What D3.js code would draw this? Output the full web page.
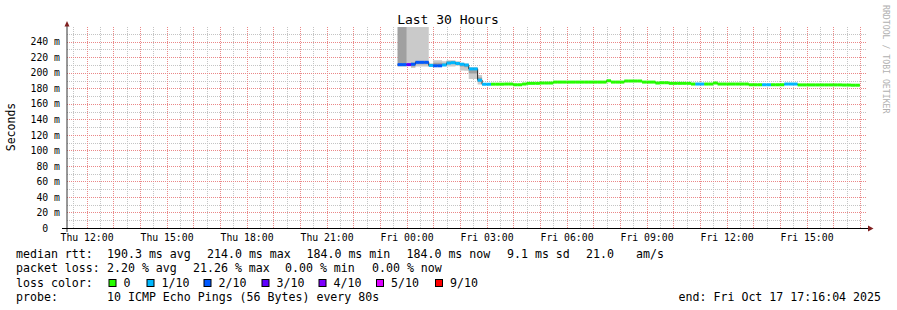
<!DOCTYPE html>
<html>
<head>
<meta charset="utf-8">
<script src="https://cdn.jsdelivr.net/npm/d3@7"></script>
<style>
  body { margin: 0; background: #fff; }
  svg text { font-family: "DejaVu Sans Mono", monospace; white-space: pre; }
</style>
</head>
<body>
<div id="chart"></div>
<script>
// data

var startTime = new Date(2025, 9, 16, 11, 16, 4);
var endTime = new Date(2025, 9, 17, 17, 16, 4);
var firstStep = new Date(2025, 9, 16, 23, 40, 0);
var stepMinutes = 10;

// median rtt per 10 min step (ms)
var medians = [
  210.5, 210.5, 210.5, 211, 213.5, 213.5, 213.5, 209.5, 209, 209,
  210, 212.5, 213, 212, 211, 210, 205, 205, 190.5, 185.2,
  185.2, 185.3, 185.3, 185.3, 185.5, 185.5, 184.6, 184.6, 185.5, 186.4,
  186.4, 186.4, 186.8, 186.8, 186.8, 188, 188, 188, 188, 188,
  188, 188, 188, 188, 188, 188, 188, 189.7, 188, 188,
  188, 189.4, 189.4, 189.4, 189.4, 188, 188, 188, 186.8, 187.2,
  187.2, 186.4, 186.4, 186.4, 186.4, 186.4, 185.5, 185.5, 185.5, 185.5,
  185.5, 186.8, 185.5, 185.5, 185.5, 185.5, 185.5, 185.5, 185.5, 184.6,
  184.6, 184.6, 184.6, 184.6, 184.6, 184.6, 184.6, 185.5, 185.5, 185.5,
  184.4, 184.4, 184.4, 184.4, 184.4, 184.4, 184.4, 184.4, 184.4, 184.4,
  184.2, 184.2, 184, 184
];

// loss per step, in tenths
var losses = [
  2, 2, 3, 2, 2, 2, 2, 1, 2, 2,
  1, 1, 1, 1, 1, 1, 1, 1, 1, 1,
  1, 0, 0, 0, 0, 0, 0, 0, 0, 0,
  0, 0, 0, 0, 0, 0, 0, 0, 0, 0,
  0, 0, 0, 0, 0, 0, 0, 0, 0, 0,
  0, 0, 0, 0, 0, 0, 0, 0, 0, 0,
  0, 0, 0, 0, 0, 0, 0, 1, 1, 0,
  0, 0, 0, 0, 0, 0, 0, 0, 0, 0,
  0, 0, 1, 1, 0, 0, 0, 1, 1, 1,
  0, 0, 0, 0, 0, 0, 0, 0, 0, 0,
  0, 0, 0, 0
];

// smoke (first steps only), ms
var smokeMin = [208.5, 208.5, 209, 206, 208, 208, 208, 208, 208, 208, 209, 208, 208, 209, 203, 202.5, 192, 192, 185, 184.5, 184.5];
var smokeMax = [300, 300, 300, 300, 300, 300, 300, 212, 216, 216, 215, 216, 216, 215, 213, 212, 207, 207, 197, 186, 186];
var smokeQ1  = [208.5, 208.5, 209.5, 208, 211, 211, 211, 209, 208.5, 208.5, 209.5, 211.5, 212, 211, 208, 207, 199, 199, 188, 185, 185];
var smokeQ3  = [300, 300, 211.5, 213, 215, 215, 215, 211, 213, 213, 212, 215, 215, 213.5, 212, 211, 206, 206, 194, 185.5, 185.5];

var yTicks = [0, 20, 40, 60, 80, 100, 120, 140, 160, 180, 200, 220, 240];
var lossColors = ["#26ff00", "#00b8ff", "#0059ff", "#5e00ff", "#7e00ff", "#dd00ff", "#ff0000"];
var lossLabels = ["0", "1/10", "2/10", "3/10", "4/10", "5/10", "9/10"];

var rttStats = ["190.3 ms avg", "214.0 ms max", "184.0 ms min", "184.0 ms now", "9.1 ms sd", "21.0", "am/s"];
var lossStats = ["2.20 % avg", "21.26 % max", "0.00 % min", "0.00 % now"];
var probeText = "10 ICMP Echo Pings (56 Bytes) every 80s";
var endText = "end: Fri Oct 17 17:16:04 2025";

// layout

var margin = {top: 28, left: 67};
var w = 800, h = 200;

var svg = d3.select("#chart").append("svg")
    .attr("width", 897)
    .attr("height", 310);

svg.append("rect")
    .attr("width", 897).attr("height", 310).attr("fill", "#fff");

var x = d3.scaleTime().domain([startTime, endTime]).range([margin.left, margin.left + w]);
var y = d3.scaleLinear().domain([0, 257.7]).range([margin.top + h, margin.top]);

var stepTime = function(i) { return d3.timeMinute.offset(firstStep, i * stepMinutes); };

// grid

var grid = svg.append("g").attr("id", "grid").style("shape-rendering", "crispEdges");
var minorCol = "#c4c4c4", majorCol = "#ea8888";

d3.range(10, 251, 10).forEach(function(v) {
  if (v % 20 === 0) return;
  var yy = Math.round(y(v)) + 0.5;
  grid.append("line").attr("x1", margin.left).attr("x2", margin.left + w)
      .attr("y1", yy).attr("y2", yy)
      .attr("stroke", minorCol).attr("stroke-dasharray", "1,1");
});
x.ticks(d3.timeMinute.every(30)).forEach(function(t) {
  if (t.getMinutes() === 0) return;
  var xx = Math.round(x(t)) + 0.5;
  grid.append("line").attr("x1", xx).attr("x2", xx)
      .attr("y1", margin.top - 1).attr("y2", margin.top + h)
      .attr("stroke", minorCol).attr("stroke-dasharray", "1,1");
});
yTicks.slice(1).forEach(function(v) {
  var yy = Math.round(y(v)) + 0.5;
  grid.append("line").attr("x1", margin.left).attr("x2", margin.left + w)
      .attr("y1", yy).attr("y2", yy)
      .attr("stroke", majorCol).attr("stroke-dasharray", "1,1");
});
x.ticks(d3.timeHour.every(1)).forEach(function(t) {
  var xx = Math.round(x(t)) + 0.5;
  grid.append("line").attr("x1", xx).attr("x2", xx)
      .attr("y1", margin.top - 1).attr("y2", margin.top + h)
      .attr("stroke", majorCol).attr("stroke-dasharray", "1,1");
});

// plot

svg.append("clipPath").attr("id", "clip")
  .append("rect").attr("x", margin.left).attr("y", margin.top - 1).attr("width", w).attr("height", h + 1);

var plot = svg.append("g").attr("clip-path", "url(#clip)");

var smokePts = smokeMin.map(function(d, i) { return i; });
smokePts.push(smokeMin.length - 1);

var outer = d3.area().curve(d3.curveStepAfter)
    .x(function(d, k) { return x(stepTime(k)); })
    .y0(function(d) { return y(smokeMin[d]); })
    .y1(function(d) { return y(smokeMax[d]); });
var inner = d3.area().curve(d3.curveStepAfter)
    .x(function(d, k) { return x(stepTime(k)); })
    .y0(function(d) { return y(smokeQ1[d]); })
    .y1(function(d) { return y(smokeQ3[d]); });

plot.append("path").attr("d", outer(smokePts)).attr("fill", "#cacaca");
plot.append("path").attr("d", inner(smokePts)).attr("fill", "#a0a0a0");

var medPts = medians.map(function(d, i) { return i; });
medPts.push(medians.length - 1);

var medLine = d3.line().curve(d3.curveStepAfter)
    .x(function(d, k) { return x(stepTime(k)); })
    .y(function(d) { return y(medians[d]); });

plot.append("path").attr("d", medLine(medPts))
    .attr("fill", "none").attr("stroke", "#202020").attr("stroke-width", 1);

plot.selectAll("rect.med").data(medians).enter().append("rect")
    .attr("class", "med")
    .attr("x", function(d, i) { return x(stepTime(i)); })
    .attr("width", function(d, i) { return x(stepTime(i + 1)) - x(stepTime(i)); })
    .attr("y", function(d) { return y(d) - 1.5; })
    .attr("height", 3)
    .attr("fill", function(d, i) { return lossColors[losses[i]]; });

// axes

var xAxis = svg.append("g")
    .attr("transform", "translate(0," + (margin.top + h) + ")")
    .call(d3.axisBottom(x).ticks(d3.timeHour.every(3)).tickFormat(d3.timeFormat("%a %H:%M")).tickSize(0).tickPadding(6));
xAxis.select(".domain").remove();
xAxis.selectAll("text").style("font-size", "9.8px").attr("fill", "#000");

var yAxis = svg.append("g")
    .attr("transform", "translate(" + margin.left + ",0)")
    .call(d3.axisLeft(y).tickValues(yTicks).tickFormat(function(v) { return v === 0 ? "0  " : v + " m"; }).tickSize(0).tickPadding(7));
yAxis.select(".domain").remove();
yAxis.selectAll("text").style("font-size", "9.8px").attr("fill", "#000");

svg.append("line").attr("x1", margin.left).attr("x2", margin.left)
    .attr("y1", margin.top + h + 4).attr("y2", 24)
    .attr("stroke", "#333").attr("stroke-width", 1);
svg.append("line").attr("x1", 62).attr("x2", 869)
    .attr("y1", margin.top + h + 0.5).attr("y2", margin.top + h + 0.5)
    .attr("stroke", "#000").attr("stroke-width", 1);
svg.append("path").attr("d", "M" + (margin.left - 2.5) + ",26.5 L" + margin.left + ",21 L" + (margin.left + 2.5) + ",26.5 Z")
    .attr("fill", "#802020");
svg.append("path").attr("d", "M868,225.5 L873.5,228.5 L868,231.5 Z")
    .attr("fill", "#802020");

// texts

svg.append("text").attr("x", 448).attr("y", 24).attr("text-anchor", "middle")
    .style("font-size", "13px").text("Last 30 Hours");

svg.append("text").attr("transform", "translate(15,127) rotate(-90)").attr("text-anchor", "middle")
    .style("font-size", "11.5px").text("Seconds");

svg.append("text").attr("transform", "translate(883,5) rotate(90)")
    .style("font-size", "8.2px").attr("fill", "#b0b0b0").text("RRDTOOL / TOBI OETIKER");

var legend = svg.append("g").attr("id", "legend").style("font-size", "11.6px");

var rttX = [107, 207, 306.5, 406.5, 507, 586, 636];
legend.append("text").attr("x", 16).attr("y", 258).text("median rtt:");
rttStats.forEach(function(s, i) {
  legend.append("text").attr("x", rttX[i]).attr("y", 258).text(s);
});

var lossX = [107, 193, 285, 372];
legend.append("text").attr("x", 16).attr("y", 272).text("packet loss:");
lossStats.forEach(function(s, i) {
  legend.append("text").attr("x", lossX[i]).attr("y", 272).text(s);
});

var boxX = [108.5, 146.5, 203.5, 261.5, 318.5, 376, 435];
legend.append("text").attr("x", 16).attr("y", 286.5).text("loss color:");
lossLabels.forEach(function(s, i) {
  legend.append("rect").attr("x", boxX[i] + 0.5).attr("y", 279.5).attr("width", 7).attr("height", 7)
      .attr("fill", lossColors[i]).attr("stroke", "#000").attr("stroke-width", 1);
  legend.append("text").attr("x", boxX[i] + 15).attr("y", 286.5).text(s);
});

legend.append("text").attr("x", 16).attr("y", 300.5).text("probe:");
legend.append("text").attr("x", 107).attr("y", 300.5).text(probeText);
legend.append("text").attr("x", 881).attr("y", 300.5).attr("text-anchor", "end").text(endText);
</script>
</body>
</html>
